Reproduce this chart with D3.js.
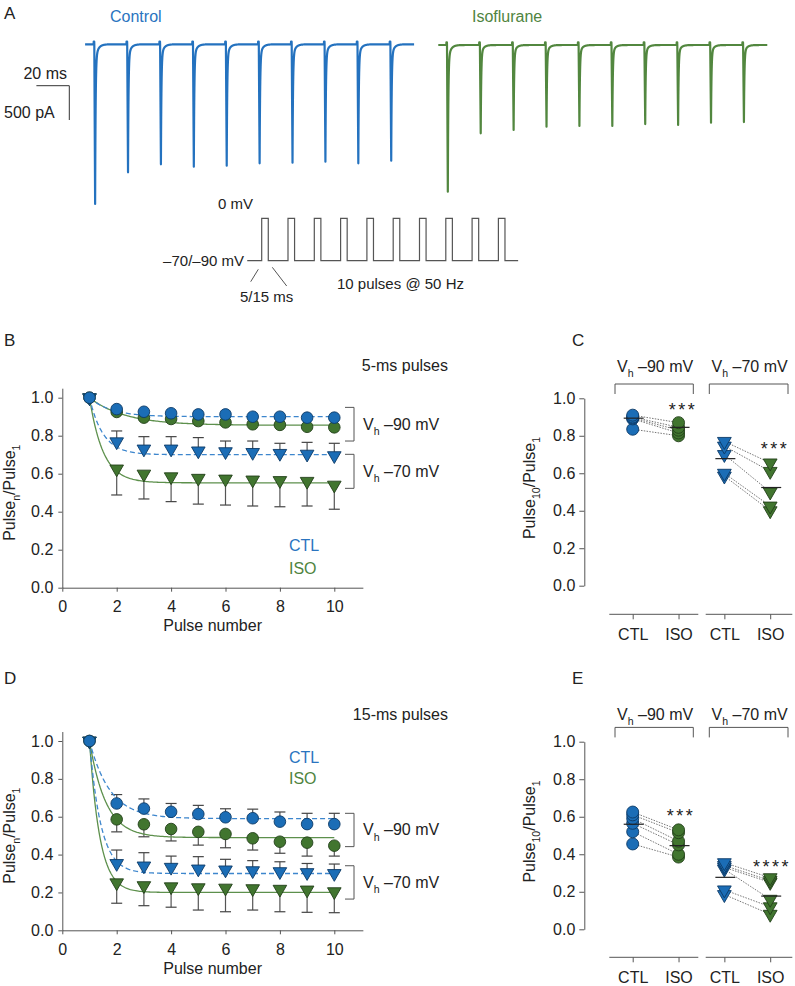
<!DOCTYPE html>
<html><head><meta charset="utf-8">
<script src="https://cdn.jsdelivr.net/npm/d3@7"></script>
<style>
body{margin:0;background:#fff}
svg{display:block;font-family:"Liberation Sans",Arial,Helvetica,sans-serif}
</style></head><body>
<svg id="fig" width="795" height="986"></svg>
<script>
// ================= DATA =================
// Panel A: peak currents (pA) of the 10 responses in each train
const trainTimes = [0, 20, 40, 60, 80, 100, 120, 140, 160, 180]; // ms
const ctrlAmps = [2328, 1866, 1750, 1784, 1770, 1735, 1726, 1712, 1735, 1697];
const isoAmps  = [2139, 1287, 1239, 1191, 1181, 1181, 1152, 1166, 1133, 1123];
const pulseWidth = 5;          // ms (protocol drawing)
const holdingMV = -80, stepMV = 0;

// Panels B & D: normalized amplitude vs pulse number
const pulseNumbers = [1, 2, 3, 4, 5, 6, 7, 8, 9, 10];
const xTicks = [0, 2, 4, 6, 8, 10];
const yTicks = [0, 0.2, 0.4, 0.6, 0.8, 1.0];

const b_ctl90 = [1.0, 0.940, 0.926, 0.918, 0.912, 0.912, 0.900, 0.900, 0.895, 0.895];
const b_iso90 = [1.0, 0.925, 0.895, 0.888, 0.877, 0.870, 0.860, 0.857, 0.847, 0.844];
const b_ctl70 = [1.0, 0.768, 0.730, 0.730, 0.720, 0.716, 0.712, 0.707, 0.703, 0.695];
const b_iso70 = [1.0, 0.625, 0.598, 0.584, 0.576, 0.572, 0.567, 0.564, 0.560, 0.540];
const b_ctl70_err = [0, 0.057, 0.065, 0.065, 0.070, 0.056, 0.060, 0.053, 0.062, 0.065];
const b_iso70_err = [0, 0.137, 0.131, 0.131, 0.136, 0.137, 0.137, 0.138, 0.130, 0.127];
// exponential fits: [plateau, tau]
const b_fits = {ctl90: [0.90, 0.8], iso90: [0.855, 1.3], ctl70: [0.70, 0.5], iso70: [0.552, 0.5]};

const d_ctl90 = [1.0, 0.670, 0.643, 0.626, 0.614, 0.597, 0.592, 0.574, 0.561, 0.561];
const d_iso90 = [1.0, 0.586, 0.560, 0.535, 0.520, 0.509, 0.486, 0.468, 0.463, 0.447];
const d_ctl70 = [1.0, 0.353, 0.340, 0.333, 0.324, 0.319, 0.315, 0.310, 0.305, 0.300];
const d_iso70 = [1.0, 0.251, 0.236, 0.230, 0.225, 0.223, 0.220, 0.217, 0.213, 0.204];
const d_ctl90_err = [0, 0.047, 0.051, 0.044, 0.046, 0.045, 0.048, 0.051, 0.057, 0.057];
const d_iso90_err = [0, 0.066, 0.066, 0.063, 0.070, 0.073, 0.062, 0.061, 0.071, 0.055];
const d_ctl70_err = [0, 0.071, 0.070, 0.059, 0.065, 0.056, 0.053, 0.052, 0.048, 0.050];
const d_iso70_err = [0, 0.108, 0.106, 0.108, 0.118, 0.125, 0.113, 0.119, 0.118, 0.111];
const d_fits = {ctl90: [0.59, 0.75], iso90: [0.49, 0.6], ctl70: [0.30, 0.42], iso70: [0.20, 0.38]};

// Panels C & E: Pulse10/Pulse1 per cell (paired CTL -> ISO)
const groupKeys = ["c90", "i90", "c70", "i70"];
const groupLabels = ["CTL", "ISO", "CTL", "ISO"];
const c_ctl90 = [0.910, 0.900, 0.895, 0.890, 0.835];
const c_iso90 = [0.870, 0.845, 0.830, 0.815, 0.800];
const c_ctl70 = [0.770, 0.745, 0.700, 0.600, 0.585];
const c_iso70 = [0.655, 0.610, 0.500, 0.425, 0.400];
const c_means = [0.894, 0.845, 0.678, 0.524];
const c_stars = ["***", "***"];

const e_ctl90 = [0.625, 0.610, 0.590, 0.565, 0.520, 0.455];
const e_iso90 = [0.530, 0.515, 0.470, 0.450, 0.400, 0.385];
const e_ctl70 = [0.355, 0.340, 0.330, 0.320, 0.210, 0.185];
const e_iso70 = [0.275, 0.260, 0.250, 0.160, 0.120, 0.080];
const e_means = [0.560, 0.446, 0.277, 0.177];
const e_stars = ["***", "****"];

// ================= STYLE =================
const BLUE = "#1b6db6", BLUE_S = "#0c3a66";
const GREEN = "#41752f", GREEN_S = "#22401a";
const TR_BLUE = "#2472bf", TR_GREEN = "#52873f";
const FIT_BLUE = "#3d86cd", FIT_GREEN = "#5d904c";
const AX = "#555", TXT = "#222";
const FS = 16;

const svg = d3.select("#fig");

function styleAxis(g, fs) {
  g.attr("font-family", null).attr("font-size", null);
  g.selectAll("path.domain").attr("stroke", AX).attr("stroke-width", 1);
  g.selectAll(".tick line").attr("stroke", AX).attr("stroke-width", 1);
  g.selectAll(".tick text").attr("fill", TXT).attr("font-size", fs || FS);
}
function subText(sel, parts, size) {
  let prev = false;
  parts.forEach(([t, sub]) => {
    const ts = sel.append("tspan").text(t);
    if (sub && !prev) ts.attr("dy", size * 0.32).attr("font-size", size * 0.66);
    else if (!sub && prev) ts.attr("dy", -size * 0.32);
    else if (sub) ts.attr("font-size", size * 0.66);
    prev = sub;
  });
}
function text(x, y, s, o = {}) {
  return svg.append("text").attr("x", x).attr("y", y).text(s)
    .attr("font-size", o.fs || FS).attr("fill", o.fill || TXT)
    .attr("text-anchor", o.anchor || "start");
}
function vhLabel(x, y, mv, anchor) {
  const t = svg.append("text").attr("x", x).attr("y", y).attr("font-size", FS)
    .attr("fill", TXT).attr("text-anchor", anchor || "start");
  subText(t, [["V", false], ["h", true], [" \u2013" + mv + " mV", false]], FS);
  return t;
}
const triPath = (size) => d3.symbol(d3.symbolTriangle, size)();

// ================= PANEL LETTERS =================
[["A", 4, 19], ["B", 4, 346], ["C", 572, 346], ["D", 4, 684], ["E", 572, 684]]
  .forEach(([l, x, y]) => text(x, y, l, {fs: 17}));

// ================= PANEL A =================
function traceSeries(amps, t0, t1) {
  const pts = [];
  const k0 = Math.round(t0 / 0.05), k1 = Math.round(t1 / 0.05);
  for (let k = k0; k <= k1; k++) {
    const t = k * 0.05;
    let v = 0;
    trainTimes.forEach((ts, i) => {
      const dt = t - ts;
      const A = amps[i];
      if (dt > -0.4 && dt < 0) v += 40;
      else if (dt >= 0 && dt < 0.5) v -= A * dt / 0.5;
      else if (dt >= 0.5) v -= A * (0.9 * Math.exp(-(dt - 0.5) / 0.3) + 0.1 * Math.exp(-(dt - 0.5) / 1.6));
    });
    pts.push([t, v]);
  }
  return pts;
}
function drawTrace(amps, x0, base, t0, t1, color) {
  const x = d3.scaleLinear().domain([0, 20]).range([x0, x0 + 32.9]);
  const y = d3.scaleLinear().domain([0, -500]).range([base, base + 34.3]);
  const line = d3.line().x(d => x(d[0])).y(d => y(d[1]));
  svg.append("path").attr("d", line(traceSeries(amps, t0, t1)))
    .attr("fill", "none").attr("stroke", color).attr("stroke-width", 2.2)
    .attr("stroke-linejoin", "round");
}
drawTrace(ctrlAmps, 94.3, 44.3, -5.6, 194.4, TR_BLUE);
drawTrace(isoAmps, 447, 45, -5.3, 194.7, TR_GREEN);
text(110, 22, "Control", {fill: "#2a74bf"});
text(472, 22, "Isoflurane", {fill: "#4f8440"});
// scale bar
svg.append("path").attr("d", "M36.4,85.7H69.3V120").attr("fill", "none").attr("stroke", "#333").attr("stroke-width", 1);
text(67, 79.3, "20 ms", {anchor: "end"});
text(4, 118.3, "500 pA");

// protocol
{
  const x = d3.scaleLinear().domain([0, 20]).range([261.7, 288.0]);
  const y = d3.scaleLinear().domain([holdingMV, stepMV]).range([260.7, 218.3]);
  const pts = [[-11, holdingMV]];
  trainTimes.forEach(t => { pts.push([t, stepMV]); pts.push([t + pulseWidth, holdingMV]); });
  pts.push([195, holdingMV]);
  const line = d3.line().x(d => x(d[0])).y(d => y(d[1])).curve(d3.curveStepAfter);
  svg.append("path").attr("d", line(pts)).attr("fill", "none").attr("stroke", "#555").attr("stroke-width", 1.2);
  svg.append("path").attr("d", "M258.3,269.3L250.7,281.7M272.3,267.3L286.7,286")
    .attr("stroke", "#555").attr("stroke-width", 1);
  text(218, 209, "0 mV", {fs: 15});
  text(244, 265.5, "\u201370/\u201390 mV", {fs: 15, anchor: "end"});
  text(240, 302, "5/15 ms", {fs: 15});
  text(337, 289, "10 pulses @ 50 Hz", {fs: 15});
}

// ================= PANELS B & D =================
function linePanel(o) {
  const g = svg.append("g");
  const x = d3.scaleLinear().domain([0, 11.05]).range([62.3, 62.3 + 11.05 * 27.2]);
  const y = d3.scaleLinear().domain([0, 1.05]).range([o.y0, o.y0 - 1.05 * o.unit]);
  const gx = g.append("g").attr("transform", `translate(0,${o.y0})`)
    .call(d3.axisBottom(x).tickValues(xTicks).tickSize(4).tickPadding(9).tickSizeOuter(0));
  const gy = g.append("g").attr("transform", `translate(62.3,0)`)
    .call(d3.axisLeft(y).tickValues(yTicks).tickFormat(d3.format(".1f")).tickSize(4).tickPadding(5).tickSizeOuter(0));
  styleAxis(gx); styleAxis(gy);
  g.append("text").attr("x", 212.6).attr("y", o.y0 + 43.5).attr("text-anchor", "middle")
    .attr("font-size", FS).attr("fill", TXT).text("Pulse number");
  const yl = g.append("text").attr("transform", `translate(15,${o.y0 - 0.5 * o.unit}) rotate(-90)`)
    .attr("text-anchor", "middle").attr("font-size", FS).attr("fill", TXT);
  subText(yl, [["Pulse", false], ["n", true], ["/Pulse", false], ["1", true]], FS);

  // error bars
  o.series.forEach(s => {
    if (!s.err) return;
    pulseNumbers.forEach((p, i) => {
      if (!s.err[i]) return;
      const v = s.vals[i], e = s.err[i] * s.dir;
      g.append("line").attr("x1", x(p)).attr("x2", x(p)).attr("y1", y(v)).attr("y2", y(v + e))
        .attr("stroke", "#555").attr("stroke-width", 1.2);
      g.append("line").attr("x1", x(p) - 5.5).attr("x2", x(p) + 5.5).attr("y1", y(v + e)).attr("y2", y(v + e))
        .attr("stroke", "#444").attr("stroke-width", 1.2);
    });
  });
  // fits
  const fx = d3.range(1, 10.0001, 0.05);
  o.series.forEach(s => {
    const [pl, tau] = s.fit;
    const line = d3.line().x(d => x(d)).y(d => y(pl + (1 - pl) * Math.exp(-(d - 1) / tau)));
    g.append("path").attr("d", line(fx)).attr("fill", "none")
      .attr("stroke", s.blue ? FIT_BLUE : FIT_GREEN).attr("stroke-width", 1.3)
      .attr("stroke-dasharray", s.blue ? "5,3" : null);
  });
  // markers
  o.series.forEach(s => {
    pulseNumbers.forEach((p, i) => {
      const fill = s.blue ? BLUE : GREEN, stroke = s.blue ? BLUE_S : GREEN_S;
      if (s.shape === "circle") {
        g.append("circle").attr("cx", x(p)).attr("cy", y(s.vals[i])).attr("r", 5.8)
          .attr("fill", fill).attr("stroke", stroke).attr("stroke-width", 0.9);
      } else {
        g.append("path").attr("d", triPath(80))
          .attr("transform", `translate(${x(p)},${y(s.vals[i])}) rotate(180)`)
          .attr("fill", fill).attr("stroke", stroke).attr("stroke-width", 0.9);
      }
    });
  });
  // brackets
  o.brackets.forEach(b => {
    const ya = y(b.hi), yb = y(b.lo);
    g.append("path").attr("d", `M345,${ya}H354V${yb}H345`).attr("fill", "none")
      .attr("stroke", "#555").attr("stroke-width", 1);
    vhLabel(363, (ya + yb) / 2 + 5.5, b.mv);
  });
  return {x, y};
}

linePanel({
  y0: 587.7, unit: 190,
  series: [
    {vals: b_iso70, err: b_iso70_err, dir: -1, shape: "tri", blue: false, fit: b_fits.iso70},
    {vals: b_ctl70, err: b_ctl70_err, dir: 1, shape: "tri", blue: true, fit: b_fits.ctl70},
    {vals: b_iso90, err: null, dir: -1, shape: "circle", blue: false, fit: b_fits.iso90},
    {vals: b_ctl90, err: null, dir: 1, shape: "circle", blue: true, fit: b_fits.ctl90}
  ],
  brackets: [{hi: 0.949, lo: 0.772, mv: "90"}, {hi: 0.702, lo: 0.523, mv: "70"}]
});
text(448, 371, "5-ms pulses", {anchor: "end"});
text(289, 551, "CTL", {fill: "#2a74bf"});
text(289, 574, "ISO", {fill: "#4f8440"});

linePanel({
  y0: 930.3, unit: 189.3,
  series: [
    {vals: d_iso70, err: d_iso70_err, dir: -1, shape: "tri", blue: false, fit: d_fits.iso70},
    {vals: d_ctl70, err: d_ctl70_err, dir: 1, shape: "tri", blue: true, fit: d_fits.ctl70},
    {vals: d_iso90, err: d_iso90_err, dir: -1, shape: "circle", blue: false, fit: d_fits.iso90},
    {vals: d_ctl90, err: d_ctl90_err, dir: 1, shape: "circle", blue: true, fit: d_fits.ctl90}
  ],
  brackets: [{hi: 0.618, lo: 0.442, mv: "90"}, {hi: 0.341, lo: 0.165, mv: "70"}]
});
text(448, 720, "15-ms pulses", {anchor: "end"});
text(289, 762.5, "CTL", {fill: "#2a74bf"});
text(289, 784, "ISO", {fill: "#4f8440"});

// ================= PANELS C & E =================
function scatterPanel(o) {
  const g = svg.append("g");
  const y = d3.scaleLinear().domain([0, 1]).range([o.y0, o.y1]);
  const x = d3.scalePoint().domain(groupKeys).range([632.7, 770.2]);
  const gy = g.append("g").attr("transform", "translate(584.3,0)")
    .call(d3.axisLeft(y).tickValues(yTicks).tickFormat(d3.format(".1f")).tickSize(5).tickPadding(4).tickSizeOuter(0));
  styleAxis(gy);
  const gx = g.append("g").attr("transform", `translate(0,${o.xAxisY})`)
    .call(d3.axisBottom(x).tickSize(5).tickPadding(9).tickSizeOuter(0).tickFormat((k, i) => groupLabels[i]));
  styleAxis(gx);
  gx.select("path.domain").remove();
  [[609.3, 698.3], [705.7, 792.3]].forEach(([a, b]) =>
    g.append("line").attr("x1", a).attr("x2", b).attr("y1", o.xAxisY).attr("y2", o.xAxisY)
      .attr("stroke", AX).attr("stroke-width", 1));
  const yl = g.append("text").attr("transform", `translate(535,${(o.y0 + o.y1) / 2 - 4}) rotate(-90)`)
    .attr("text-anchor", "middle").attr("font-size", FS).attr("fill", TXT);
  subText(yl, [["Pulse", false], ["10", true], ["/Pulse", false], ["1", true]], FS);

  // brackets
  const yb = o.y1 - 14.3;
  [[615, 693.3, "90"], [709.3, 788, "70"]].forEach(([a, b, mv]) => {
    g.append("path").attr("d", `M${a},${yb + 10}V${yb}H${b}V${yb + 10}`).attr("fill", "none")
      .attr("stroke", "#555").attr("stroke-width", 1);
    vhLabel((a + b) / 2 + 1, yb - o.textGap, mv, "middle");
  });

  // paired lines
  [[o.c90, o.i90, "c90", "i90"], [o.c70, o.i70, "c70", "i70"]].forEach(([ca, ia, kc, ki]) => {
    ca.forEach((v, i) => {
      g.append("line").attr("x1", x(kc)).attr("x2", x(ki)).attr("y1", y(v)).attr("y2", y(ia[i]))
        .attr("stroke", "#666").attr("stroke-width", 0.9).attr("stroke-dasharray", "1.5,1.3");
    });
  });
  // markers
  const groups = [[o.c90, "c90", "circle", true], [o.i90, "i90", "circle", false],
                  [o.c70, "c70", "tri", true], [o.i70, "i70", "tri", false]];
  groups.forEach(([vals, k, shape, blue]) => {
    vals.slice().reverse().forEach(v => {
      const fill = blue ? BLUE : GREEN, stroke = blue ? BLUE_S : GREEN_S;
      if (shape === "circle")
        g.append("circle").attr("cx", x(k)).attr("cy", y(v)).attr("r", 6)
          .attr("fill", fill).attr("stroke", stroke).attr("stroke-width", 0.9);
      else
        g.append("path").attr("d", triPath(82)).attr("transform", `translate(${x(k)},${y(v)}) rotate(180)`)
          .attr("fill", fill).attr("stroke", stroke).attr("stroke-width", 0.9);
    });
  });
  // mean lines
  groupKeys.forEach((k, i) => {
    g.append("line").attr("x1", x(k) - 9).attr("x2", x(k) + 11).attr("y1", y(o.means[i])).attr("y2", y(o.means[i]))
      .attr("stroke", "#222").attr("stroke-width", 1.2);
  });
  // significance stars
  o.stars.forEach((s, i) => {
    g.append("text").attr("x", o.starPos[i][0]).attr("y", o.starPos[i][1]).attr("text-anchor", "middle")
      .attr("font-size", 18).attr("letter-spacing", 2.5).attr("fill", TXT).text(s);
  });
}
scatterPanel({
  y0: 585.7, y1: 398.3, xAxisY: 614.3, textGap: 12,
  c90: c_ctl90, i90: c_iso90, c70: c_ctl70, i70: c_iso70, means: c_means, stars: c_stars,
  starPos: [[683, 416], [775, 455]]
});
scatterPanel({
  y0: 929.3, y1: 741.7, xAxisY: 957.3, textGap: 7.5,
  c90: e_ctl90, i90: e_iso90, c70: e_ctl70, i70: e_iso70, means: e_means, stars: e_stars,
  starPos: [[681, 822], [772, 873]]
});
</script></body></html>
